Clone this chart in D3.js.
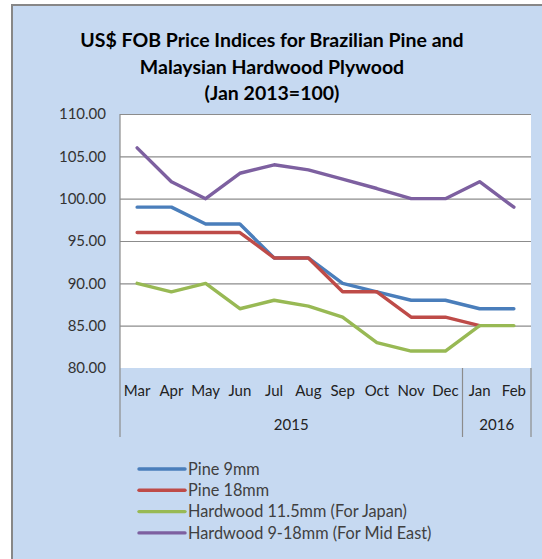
<!DOCTYPE html>
<html>
<head>
<meta charset="utf-8">
<script src="https://cdn.jsdelivr.net/npm/d3@7"></script>
<style>
  html, body { margin: 0; padding: 0; background: #ffffff; }
  svg { display: block; }
</style>
</head>
<body>
<svg id="chart" width="542" height="559"></svg>
<script>
// ---- Data ----
const months = ["Mar", "Apr", "May", "Jun", "Jul", "Aug", "Sep", "Oct", "Nov", "Dec", "Jan", "Feb"];
const years = [
  { label: "2015", from: "Mar", to: "Dec" },
  { label: "2016", from: "Jan", to: "Feb" }
];
const pine9 = [99, 99, 97, 97, 93, 93, 90, 89, 88, 88, 87, 87];
const pine18 = [96, 96, 96, 96, 93, 93, 89, 89, 86, 86, 85, null];
const hard115 = [90, 89, 90, 87, 88, 87.3, 86, 83, 82, 82, 85, 85];
const hard918 = [106, 102, 100, 103, 104, 103.4, 102.3, 101.2, 100, 100, 102, 99];
const seriesNames = ["Pine 9mm", "Pine 18mm", "Hardwood 11.5mm (For Japan)", "Hardwood 9-18mm (For Mid East)"];
const yTicks = [80, 85, 90, 95, 100, 105, 110];
const titleLines = ["US$ FOB Price Indices for Brazilian Pine and", "Malaysian Hardwood Plywood", "(Jan 2013=100)"];

const series = [
  { name: seriesNames[0], values: pine9, color: "#4a7ebb" },
  { name: seriesNames[1], values: pine18, color: "#be4b48" },
  { name: seriesNames[2], values: hard115, color: "#98b954" },
  { name: seriesNames[3], values: hard918, color: "#7d60a0" }
];

// ---- Layout ----
const svg = d3.select("#chart");
const plot = { left: 120, right: 531, top: 114, bottom: 368 };
const axisBottom = 437;
const font = "Lato, 'Open Sans', sans-serif";

// chart area background
svg.append("rect")
  .attr("x", 12).attr("y", 5)
  .attr("width", 560).attr("height", 600)
  .attr("fill", "#c6d9f1")
  .attr("stroke", "#878787").attr("stroke-width", 2);

// plot area
svg.append("rect")
  .attr("x", plot.left).attr("y", plot.top)
  .attr("width", plot.right - plot.left).attr("height", plot.bottom - plot.top)
  .attr("fill", "#ffffff");

// title
const title = svg.append("text")
  .attr("text-anchor", "middle")
  .attr("font-family", font)
  .attr("font-weight", "bold")
  .attr("font-size", 19.5)
  .attr("fill", "#000000");
titleLines.forEach((t, i) => {
  title.append("tspan").attr("x", 272).attr("y", 47 + i * 26.5).text(t);
});

// scales
const x = d3.scaleBand().domain(months).range([plot.left, plot.right]).padding(0);
const xc = m => x(m) + x.bandwidth() / 2;
const y = d3.scaleLinear().domain([80, 110]).range([plot.bottom, plot.top]);

// gridlines
const grid = svg.append("g")
  .attr("transform", `translate(${plot.left},0)`)
  .call(d3.axisLeft(y).tickValues(yTicks.filter(v => v > 80)).tickSize(-(plot.right - plot.left)).tickFormat(""));
grid.select(".domain").remove();
grid.selectAll(".tick line").attr("stroke", "#8c8c8c").attr("stroke-width", 1.2);

// y axis labels
const yAxis = svg.append("g")
  .attr("transform", `translate(${plot.left},0)`)
  .call(d3.axisLeft(y).tickValues(yTicks).tickSize(0).tickPadding(14).tickFormat(d3.format(".2f")));
yAxis.select(".domain").remove();
yAxis.selectAll("text")
  .attr("font-family", font).attr("font-size", 15).attr("fill", "#333333");

// category axis lines
svg.append("line")
  .attr("x1", plot.left).attr("x2", plot.left)
  .attr("y1", plot.top).attr("y2", axisBottom)
  .attr("stroke", "#8c8c8c").attr("stroke-width", 1.2);
[x("Jan"), plot.right].forEach(px => {
  svg.append("line")
    .attr("x1", px).attr("x2", px)
    .attr("y1", plot.bottom).attr("y2", axisBottom)
    .attr("stroke", "#8c8c8c").attr("stroke-width", 1.2);
});

// month labels
const xAxis = svg.append("g")
  .attr("transform", `translate(0,${plot.bottom})`)
  .call(d3.axisBottom(x).tickSize(0).tickPadding(17));
xAxis.select(".domain").remove();
xAxis.selectAll("text")
  .attr("font-family", font).attr("font-size", 15).attr("fill", "#222222");

// year labels
svg.append("g").selectAll("text").data(years).join("text")
  .attr("x", d => (x(d.from) + x(d.to) + x.bandwidth()) / 2)
  .attr("y", 430)
  .attr("text-anchor", "middle")
  .attr("font-family", font).attr("font-size", 15).attr("fill", "#222222")
  .text(d => d.label);

// lines
const line = d3.line()
  .defined(d => d.v != null)
  .x(d => xc(d.m))
  .y(d => y(d.v));
svg.append("g").selectAll("path").data(series).join("path")
  .attr("d", s => line(s.values.map((v, i) => ({ m: months[i], v }))))
  .attr("fill", "none")
  .attr("stroke", s => s.color)
  .attr("stroke-width", 3.4)
  .attr("stroke-linejoin", "round")
  .attr("stroke-linecap", "round");

// legend
const legend = svg.append("g").selectAll("g").data(series).join("g")
  .attr("transform", (d, i) => `translate(139,${469 + i * 21.3})`);
legend.append("line")
  .attr("x1", 0).attr("x2", 46)
  .attr("stroke", d => d.color).attr("stroke-width", 3.4)
  .attr("stroke-linecap", "round");
legend.append("text")
  .attr("x", 49).attr("dy", "0.35em")
  .attr("font-family", font).attr("font-size", 16.3).attr("fill", "#404040")
  .text(d => d.name);
</script>
</body>
</html>
